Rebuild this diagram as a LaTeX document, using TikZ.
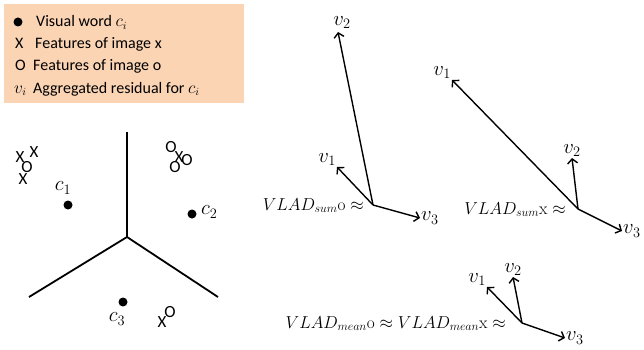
\documentclass[tikz,border=0pt]{standalone}
\usepackage[no-math]{fontspec}
\setmainfont{Carlito}
\usepackage{amsmath}
\usetikzlibrary{arrows.meta}
\definecolor{peach}{HTML}{FBD4B4}
\definecolor{ink}{HTML}{000000}
\tikzset{fig/.style={line join=round,>={Straight Barb[length=4.5pt,width=10pt]}},
  legtext/.style={anchor=base west,inner sep=0pt,font=\fontsize{16}{19}\selectfont},
  featmark/.style={inner sep=0pt,font=\fontsize{17}{20}\selectfont},
  vec/.style={->,line width=1.4pt},
  vlab/.style={inner sep=1pt,font=\fontsize{20}{24}\selectfont},
  eqtext/.style={anchor=base east,inner sep=0pt,font=\fontsize{17}{20}\selectfont}}

\begin{document}
\begin{tikzpicture}[fig,x=1pt,y=-1pt]
  \useasboundingbox (0,0) rectangle (644,350);
  % legend
  \fill[peach](4,4)rectangle(244,103);
  \fill[ink](18,22)circle(4.5);
  \node[legtext](l1)at(36,27){Visual word $c_i$};
  \node[legtext](s2)at(15,49){X};\node[legtext](l2)at(35,49){Features of image x};
  \node[legtext](s3)at(15,71){O};\node[legtext](l3)at(33,71){Features of image o};
  \node[legtext](s4)at(14,93){$v_i$};\node[legtext](l4)at(33,93){Aggregated residual for $c_i$};
  % cells of the three visual words
  \coordinate(mid)at(127,237);
  \coordinate(top)at(127,132);
  \coordinate(lft)at(29,297);
  \coordinate(rgt)at(218,297);
  \draw[line width=1.8pt](top)--(mid)--(lft) (mid)--(rgt);
  \fill[ink](68,205)circle(4.5);\node[vlab](c1)at(63,188){$c_1$};
  \fill[ink](192,214)circle(4.5);\node[vlab,right](c2)at(200,212){$c_2$};
  \fill[ink](123,302)circle(4.5);\node[vlab](c3)at(117,319){$c_3$};
  % features
  \node[featmark](x1)at(20,157){X};\node[featmark](x2)at(34,152){X};
  \node[featmark](o1)at(27,167){O};\node[featmark](x3)at(23,179){X};
  \node[featmark](o2)at(171,147){O};\node[featmark](x4)at(179,157){X};
  \node[featmark](o3)at(187,160){O};\node[featmark](o4)at(175,167){O};
  \node[featmark](x5)at(162,322){X};\node[featmark](o5)at(170,312){O};
  % VLAD sum of image o
  \coordinate(A)at(373,205);
  \draw[vec](A)--(338,32)coordinate(A2);
  \draw[vec](A)--(337,167)coordinate(A1);
  \draw[vec](A)--(420,218)coordinate(A3);
  \node[vlab,above](a2)at(342,30){$v_2$};
  \node[vlab,above left](a1)at(A1){$v_1$};
  \node[vlab,right](a3)at(A3){$v_3$};
  \node[eqtext](ea)at(364,210){$VLAD_{sum}\mathrm{o}\approx$};
  % VLAD sum of image x
  \coordinate(B)at(578,209);
  \draw[vec](B)--(452,80)coordinate(B1);
  \draw[vec](B)--(572,158)coordinate(B2);
  \draw[vec](B)--(622,231)coordinate(B3);
  \node[vlab,above left](b1)at(B1){$v_1$};
  \node[vlab,above](b2)at(B2){$v_2$};
  \node[vlab,right](b3)at(B3){$v_3$};
  \node[eqtext](eb)at(566,214){$VLAD_{sum}\mathrm{x}\approx$};
  % VLAD mean of both images
  \coordinate(C)at(522,323);
  \draw[vec](C)--(487,287)coordinate(C1);
  \draw[vec](C)--(513,277)coordinate(C2);
  \draw[vec](C)--(565,338)coordinate(C3);
  \node[vlab,above left](c1v)at(C1){$v_1$};
  \node[vlab,above](c2v)at(C2){$v_2$};
  \node[vlab,right](c3v)at(C3){$v_3$};
  \node[eqtext](ec)at(506,328){$VLAD_{mean}\mathrm{o}\approx VLAD_{mean}\mathrm{x}\approx$};
\end{tikzpicture}
\end{document}
